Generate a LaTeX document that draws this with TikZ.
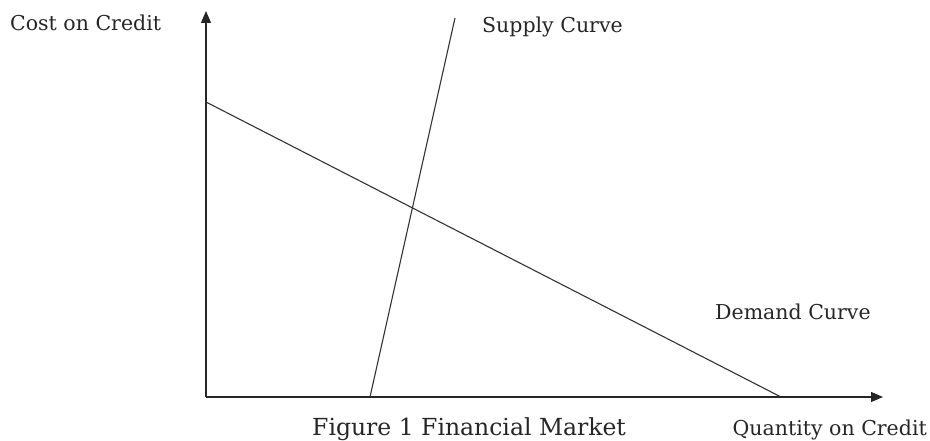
\documentclass[tikz,border=0pt]{standalone}
\usepackage{fontspec}
\setmainfont{DejaVu Serif}
\usetikzlibrary{arrows.meta}
\begin{document}
\begin{tikzpicture}[x=1pt,y=-1pt,
  axis/.style={line width=1.3pt,draw=black!85,-{Triangle[length=12pt,width=10pt]}},
  curve/.style={line width=1.1pt,draw=black!80},
  lbl/.style={font=\fontsize{20.5}{24}\selectfont,inner sep=0pt,text=black!85},
  figcaption/.style={font=\fontsize{23.5}{28}\selectfont,inner sep=0pt,text=black!85}]
\useasboundingbox (0,0) rectangle (930,441);
\coordinate (O) at (206,397);
\coordinate (ytop) at (206,11);
\coordinate (xend) at (883,397);
\coordinate (d1) at (206,102);
\coordinate (d2) at (781,397);
\coordinate (s1) at (370,397);
\coordinate (s2) at (455,18);
\draw[axis] (O) -- (ytop);
\draw[axis] (O) -- (xend);
\draw[curve] (d1) -- (d2);
\draw[curve] (s1) -- (s2);
\node[lbl,anchor=base west] (cost) at (10,30.5) {Cost on Credit};
\node[lbl,anchor=base west] (supply) at (482,33) {Supply Curve};
\node[lbl,anchor=base west] (demand) at (715,319) {Demand Curve};
\node[lbl,anchor=base east] (qty) at (927,435) {Quantity on Credit};
\node[figcaption,anchor=base west] (fig) at (312,435) {Figure 1 Financial Market};
\end{tikzpicture}
\end{document}
